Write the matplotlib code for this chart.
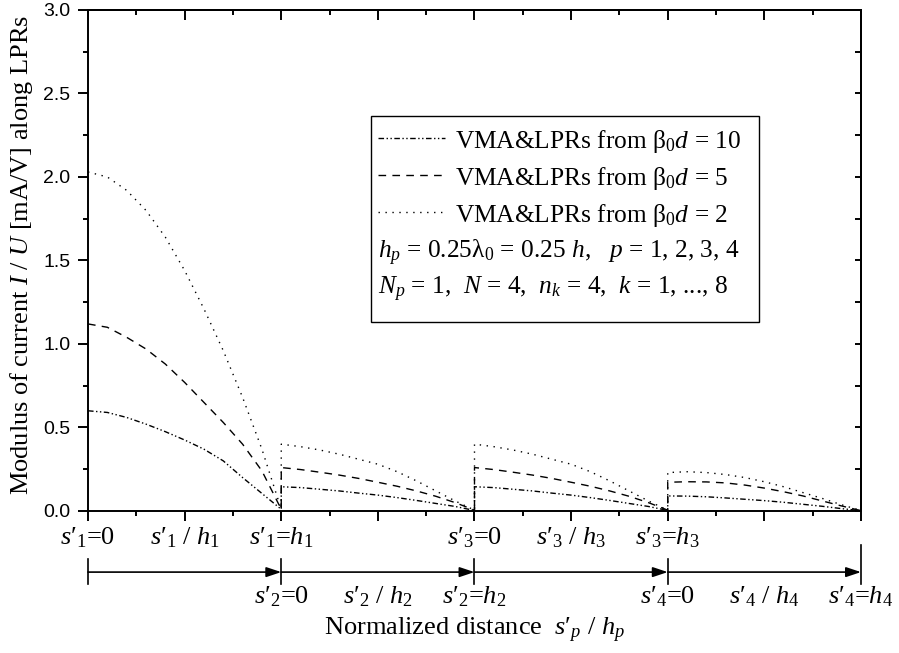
import numpy as np
import matplotlib
matplotlib.use('Agg')
import matplotlib.pyplot as plt
from matplotlib.patches import Rectangle
from matplotlib.ticker import MultipleLocator, FormatStrFormatter, NullFormatter

plt.rcParams['font.family'] = ['Liberation Serif', 'DejaVu Serif']
plt.rcParams['mathtext.fontset'] = 'custom'
plt.rcParams['mathtext.rm'] = 'Liberation Serif'
plt.rcParams['mathtext.it'] = 'Liberation Serif:italic'
plt.rcParams['mathtext.bf'] = 'Liberation Serif:bold'

# normalized position along one LPR, s'/h
s = [0.0, 0.1, 0.2, 0.3, 0.4, 0.5, 0.6, 0.7, 0.8, 0.9, 1.0]

# |I/U| [mA/V] on LPR 1
seg1_bd10 = [0.60, 0.59, 0.56, 0.52, 0.475, 0.425, 0.37, 0.30, 0.20, 0.105, 0.01]
seg1_bd5 = [1.12, 1.10, 1.04, 0.97, 0.88, 0.77, 0.65, 0.53, 0.40, 0.24, 0.01]
seg1_bd2 = [2.03, 2.00, 1.92, 1.80, 1.64, 1.44, 1.21, 0.96, 0.68, 0.37, 0.01]

# LPRs 2 and 3 (same distribution)
seg23_bd10 = [0.145, 0.14, 0.13, 0.12, 0.107, 0.095, 0.08, 0.063, 0.045, 0.027, 0.003]
seg23_bd5 = [0.26, 0.248, 0.232, 0.215, 0.195, 0.172, 0.148, 0.12, 0.088, 0.05, 0.005]
seg23_bd2 = [0.40, 0.385, 0.365, 0.34, 0.31, 0.28, 0.235, 0.18, 0.12, 0.06, 0.005]

# LPR 4
seg4_bd10 = [0.09, 0.089, 0.085, 0.078, 0.07, 0.062, 0.052, 0.04, 0.028, 0.014, 0.002]
seg4_bd5 = [0.172, 0.175, 0.174, 0.168, 0.155, 0.137, 0.115, 0.09, 0.06, 0.03, 0.002]
seg4_bd2 = [0.23, 0.235, 0.23, 0.218, 0.20, 0.175, 0.145, 0.11, 0.075, 0.037, 0.003]

labels = [r"VMA&LPRs from $\mathrm{β}_0d$ = 10",
          r"VMA&LPRs from $\mathrm{β}_0d$ = 5",
          r"VMA&LPRs from $\mathrm{β}_0d$ = 2"]
info1 = r"$h_p$ = 0.25$\mathrm{λ}_0$ = 0.25 $h$,   $p$ = 1, 2, 3, 4"
info2 = r"$N_p$ = 1,  $N$ = 4,  $n_k$ = 4,  $k$ = 1, ..., 8"

row1_x = [0, 0.5, 1, 2, 2.5, 3]
row1_labels = [r"$s\prime_1$=0", r"$s\prime_1$ / $h_1$", r"$s\prime_1$=$h_1$",
               r"$s\prime_3$=0", r"$s\prime_3$ / $h_3$", r"$s\prime_3$=$h_3$"]
row2_x = [1, 1.5, 2, 3, 3.5, 4]
row2_labels = [r"$s\prime_2$=0", r"$s\prime_2$ / $h_2$", r"$s\prime_2$=$h_2$",
               r"$s\prime_4$=0", r"$s\prime_4$ / $h_4$", r"$s\prime_4$=$h_4$"]
bounds = [0, 1, 2, 3, 4]

series = [
    [seg1_bd10, seg23_bd10, seg23_bd10, seg4_bd10],
    [seg1_bd5, seg23_bd5, seg23_bd5, seg4_bd5],
    [seg1_bd2, seg23_bd2, seg23_bd2, seg4_bd2],
]
styles = [(0, (4, 1.8, 1, 1.8, 1, 1.8)), (0, (5.5, 4.5)), (0, (1, 4))]

fig = plt.figure(figsize=(8.99, 6.53), dpi=100)
ax = fig.add_axes([0.0979, 0.2175, 0.8598, 0.7672])

sa = np.array(s)
for segs, ls in zip(series, styles):
    xs = np.concatenate([k + sa for k in range(4)])
    ys = np.concatenate(segs)
    ax.plot(xs, ys, color='k', lw=1.0, linestyle=ls)

ax.set_xlim(0, 4)
ax.set_ylim(0, 3.0)

ax.xaxis.set_major_locator(MultipleLocator(0.5))
ax.xaxis.set_minor_locator(MultipleLocator(0.25))
ax.xaxis.set_major_formatter(NullFormatter())
ax.yaxis.set_major_locator(MultipleLocator(0.5))
ax.yaxis.set_minor_locator(MultipleLocator(0.25))
ax.yaxis.set_major_formatter(FormatStrFormatter('%.1f'))
ax.tick_params(which='major', direction='out', length=7.2, width=1.4, pad=5.5)
ax.tick_params(which='minor', direction='out', length=3.6, width=1.4)
for lab in ax.get_yticklabels():
    lab.set_fontfamily('Liberation Sans')
    lab.set_fontsize(14)
for sp in ax.spines.values():
    sp.set_linewidth(1.4)

top = ax.secondary_xaxis('top')
top.xaxis.set_major_locator(MultipleLocator(0.5))
top.xaxis.set_minor_locator(MultipleLocator(0.25))
top.tick_params(which='major', direction='in', length=7.2, width=1.4, labeltop=False)
top.tick_params(which='minor', direction='in', length=3.6, width=1.4)
top.spines['top'].set_linewidth(1.4)

right = ax.secondary_yaxis('right')
right.yaxis.set_major_locator(MultipleLocator(0.5))
right.yaxis.set_minor_locator(MultipleLocator(0.25))
right.tick_params(which='both', direction='in', length=4.3, width=1.4, labelright=False)
right.spines['right'].set_linewidth(1.4)

# legend box drawn by hand
ax.add_patch(Rectangle((0.366, 0.377), 0.502, 0.411, transform=ax.transAxes,
                       fill=False, lw=1.0, ec='k'))
leg_y = [0.745, 0.671, 0.597, 0.525, 0.451]
for y, ls, lab in zip(leg_y[:3], styles, labels):
    ax.plot([0.375, 0.462], [y, y], transform=ax.transAxes, color='k', lw=1.0, linestyle=ls)
    ax.text(0.475, y, lab, transform=ax.transAxes, fontsize=18.3, va='center_baseline')
ax.text(0.375, leg_y[3], info1, transform=ax.transAxes, fontsize=18.3, va='center_baseline')
ax.text(0.375, leg_y[4], info2, transform=ax.transAxes, fontsize=18.3, va='center_baseline')

# labels and arrows below the axis
trans = ax.get_xaxis_transform()
for x, lab in zip(row1_x, row1_labels):
    ax.text(x, -0.066, lab, transform=trans, fontsize=19, ha='center', va='baseline')
for x, lab in zip(row2_x, row2_labels):
    ax.text(x, -0.184, lab, transform=trans, fontsize=19, ha='center', va='baseline')

y_arr = -0.122
for a, b in zip(bounds[:-1], bounds[1:]):
    ax.annotate('', xy=(b, y_arr), xytext=(a, y_arr), xycoords=trans, textcoords=trans,
                arrowprops=dict(arrowstyle='-|>,head_length=0.6,head_width=0.2', color='k',
                                lw=1.2, shrinkA=0, shrinkB=0, mutation_scale=15),
                annotation_clip=False)
for x in bounds:
    y_top = -0.068 if x == bounds[-1] else -0.095
    ax.plot([x, x], [y_top, -0.145], transform=trans, color='k', lw=1.2, clip_on=False)

ax.text(2.0, -0.249, r"Normalized distance  $s\prime_p$ / $h_p$", transform=trans,
        fontsize=19, ha='center', va='baseline')
fig.text(0.024, 0.6095, r"Modulus of current $I$ / $U$ [mA/V] along LPRs",
         rotation=90, fontsize=19, ha='center', va='center')

fig.savefig('out.png', dpi=100)
